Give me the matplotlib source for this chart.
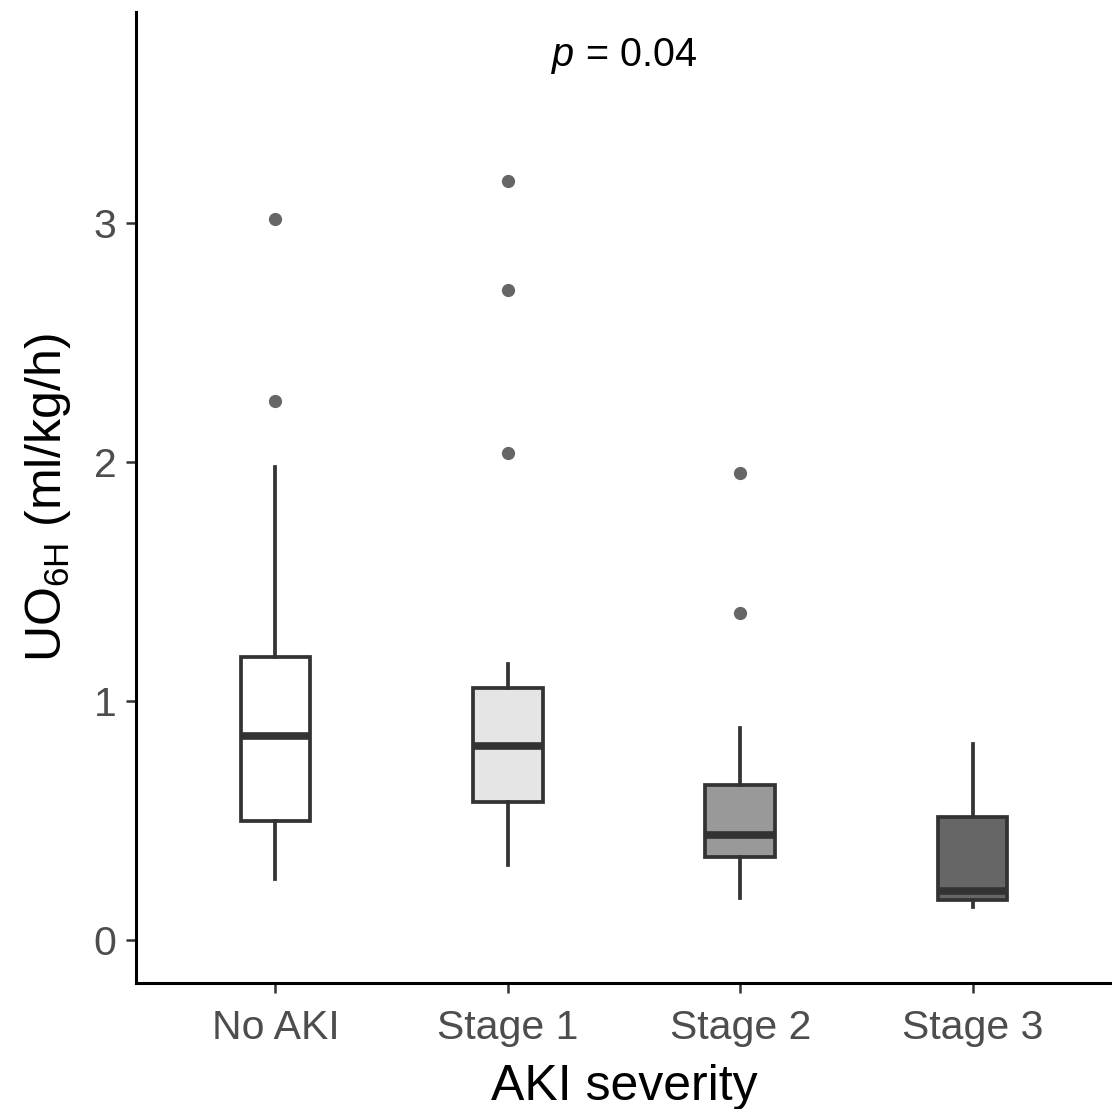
import matplotlib
matplotlib.use("Agg")
import matplotlib.pyplot as plt

plt.rcParams['font.family'] = ['Liberation Sans', 'DejaVu Sans']
plt.rcParams['mathtext.fontset'] = 'custom'
plt.rcParams['mathtext.rm'] = 'Liberation Sans'
plt.rcParams['mathtext.it'] = 'Liberation Sans:italic'

# box statistics (ml/kg/h)
groups = ["No AKI", "Stage 1", "Stage 2", "Stage 3"]
whislo = [0.255, 0.314, 0.176, 0.138]
q1 = [0.498, 0.577, 0.347, 0.167]
med = [0.854, 0.812, 0.439, 0.205]
q3 = [1.184, 1.054, 0.649, 0.515]
whishi = [1.98, 1.155, 0.887, 0.820]
fliers = [[2.255, 3.017], [2.038, 2.72, 3.176], [1.368, 1.954], []]
fills = ["#ffffff", "#e5e5e5", "#999999", "#666666"]

stats = []
for i in range(len(groups)):
    stats.append(dict(label=groups[i], whislo=whislo[i], q1=q1[i], med=med[i],
                      q3=q3[i], whishi=whishi[i], fliers=fliers[i]))

fig = plt.figure(figsize=(11.12, 11.09), dpi=100)
ax = fig.add_axes([0.1223, 0.1136, 0.8777, 0.8754])

line = "#333333"
bp = ax.bxp(stats, positions=[1, 2, 3, 4], widths=0.3, patch_artist=True,
            showcaps=False,
            boxprops=dict(edgecolor=line, linewidth=2.7),
            whiskerprops=dict(color=line, linewidth=2.7),
            medianprops=dict(color=line, linewidth=5.5, solid_capstyle='butt'),
            flierprops=dict(marker='o', markerfacecolor='#666666',
                            markeredgecolor='#666666', markersize=8.5))
for patch, c in zip(bp['boxes'], fills):
    patch.set_facecolor(c)

ax.set_xlim(0.4, 4.6)
ax.set_ylim(-0.18, 3.883)
ax.set_yticks([0, 1, 2, 3])
ax.set_xticks([1, 2, 3, 4])
ax.set_xticklabels(groups)

for s in ['top', 'right']:
    ax.spines[s].set_visible(False)
for s in ['left', 'bottom']:
    ax.spines[s].set_linewidth(2.2)
    ax.spines[s].set_color('black')

ax.tick_params(axis='both', length=7, width=1.8, color='#333333',
               labelsize=29.5, labelcolor='#4d4d4d', pad=7)
ax.tick_params(axis='x', pad=12)

ax.set_xlabel("AKI severity", fontsize=36, labelpad=12)
ax.set_ylabel(r"UO$_\mathregular{6H}$ (ml/kg/h)", fontsize=36, labelpad=15)

ax.text(2.5, 3.7, r"$p$ = 0.04", fontsize=28.5, ha='center', va='center')

fig.savefig("out.png", dpi=100)
